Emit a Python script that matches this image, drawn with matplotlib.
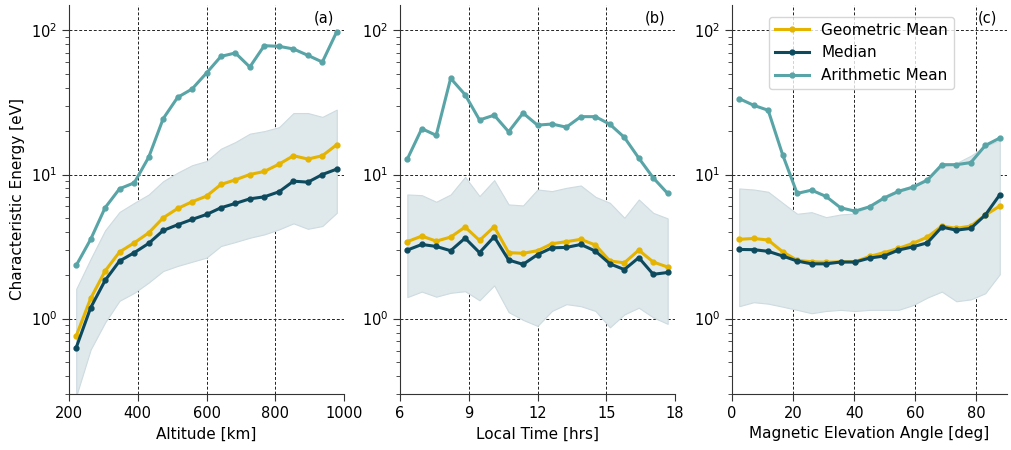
import numpy as np
import matplotlib
matplotlib.use('Agg')
import matplotlib.pyplot as plt

# bin centres
alt = [221, 263, 305, 347, 390, 432, 474, 516, 558, 600, 642, 684, 726, 768, 811, 853, 895, 937, 979]
lt = [6.32, 6.95, 7.58, 8.21, 8.84, 9.47, 10.11, 10.74, 11.37, 12.0, 12.63, 13.26, 13.89, 14.53,
      15.16, 15.79, 16.42, 17.05, 17.68]
mea = [2.37, 7.11, 11.84, 16.58, 21.32, 26.05, 30.79, 35.53, 40.26, 45.0, 49.74, 54.47, 59.21,
       63.95, 68.68, 73.42, 78.16, 82.89, 87.63]

# altitude
alt_geo = [0.76, 1.38, 2.14, 2.90, 3.36, 3.94, 5.01, 5.81, 6.47, 7.08, 8.53, 9.19, 10.0, 10.5,
           11.8, 13.5, 12.8, 13.5, 16.1]
alt_med = [0.63, 1.19, 1.84, 2.51, 2.87, 3.33, 4.09, 4.48, 4.88, 5.28, 5.88, 6.30, 6.78, 7.00,
           7.59, 8.99, 8.85, 10.0, 10.9]
alt_ari = [2.34, 3.55, 5.88, 7.96, 8.76, 13.2, 24.4, 34.3, 39.2, 50.6, 66.0, 69.7, 55.7, 78.3,
           77.5, 74.3, 67.1, 60.3, 97.9]
alt_lo = [0.29, 0.61, 0.94, 1.33, 1.51, 1.78, 2.14, 2.32, 2.48, 2.65, 3.19, 3.40, 3.64, 3.84,
          4.16, 4.58, 4.20, 4.39, 5.42]
alt_hi = [1.61, 2.60, 4.10, 5.50, 6.36, 7.27, 8.99, 10.3, 11.6, 12.4, 15.1, 16.8, 19.2, 20.0,
          21.3, 26.7, 26.7, 25.1, 28.2]

# local time
lt_geo = [3.42, 3.74, 3.45, 3.68, 4.32, 3.49, 4.34, 2.87, 2.84, 2.96, 3.31, 3.42, 3.55, 3.24,
          2.51, 2.44, 2.99, 2.47, 2.28]
lt_med = [2.99, 3.27, 3.17, 2.96, 3.62, 2.87, 3.70, 2.55, 2.38, 2.78, 3.10, 3.12, 3.27, 2.94,
          2.40, 2.19, 2.65, 2.03, 2.09]
lt_ari = [12.8, 20.8, 18.7, 46.5, 35.8, 23.9, 25.8, 19.8, 26.7, 22.0, 22.4, 21.3, 25.2, 25.2,
          22.3, 18.1, 13.0, 9.48, 7.39]
lt_lo = [1.41, 1.54, 1.42, 1.51, 1.55, 1.34, 1.70, 1.11, 0.98, 0.89, 1.13, 1.26, 1.22, 1.13,
         0.87, 1.07, 1.19, 1.02, 0.92]
lt_hi = [7.27, 7.19, 6.47, 7.27, 9.63, 7.08, 9.14, 6.20, 6.10, 7.87, 7.67, 8.08, 8.39, 7.00,
         6.36, 5.01, 6.71, 5.42, 4.96]

# magnetic elevation angle
mea_geo = [3.55, 3.60, 3.51, 2.91, 2.54, 2.48, 2.46, 2.48, 2.48, 2.70, 2.87, 3.07, 3.33, 3.68,
           4.39, 4.23, 4.39, 5.23, 6.04]
mea_med = [3.02, 3.01, 2.93, 2.72, 2.51, 2.40, 2.40, 2.47, 2.47, 2.63, 2.72, 2.99, 3.15, 3.36,
           4.32, 4.11, 4.23, 5.23, 7.23]
mea_ari = [33.6, 30.2, 27.9, 13.7, 7.39, 7.79, 7.04, 5.88, 5.57, 5.97, 6.86, 7.63, 8.17, 9.14,
           11.7, 11.7, 12.1, 15.9, 17.9]
mea_lo = [1.22, 1.30, 1.27, 1.21, 1.15, 1.09, 1.13, 1.15, 1.13, 1.15, 1.15, 1.15, 1.24, 1.40,
          1.54, 1.32, 1.36, 1.50, 2.03]
mea_hi = [8.00, 7.87, 7.59, 6.36, 5.34, 5.48, 5.06, 5.28, 5.37, 6.04, 7.08, 7.87, 8.39, 9.48,
          11.3, 12.0, 13.5, 15.7, 17.3]

c_geo = '#e5b400'
c_med = '#0d4a5e'
c_ari = '#58a4a6'

panels = [
    (alt, alt_geo, alt_med, alt_ari, alt_lo, alt_hi, 'Altitude [km]', (200, 1000), [200, 400, 600, 800, 1000], '(a)'),
    (lt, lt_geo, lt_med, lt_ari, lt_lo, lt_hi, 'Local Time [hrs]', (6, 18), [6, 9, 12, 15, 18], '(b)'),
    (mea, mea_geo, mea_med, mea_ari, mea_lo, mea_hi, 'Magnetic Elevation Angle [deg]', (0, 90), [0, 20, 40, 60, 80], '(c)'),
]
lefts = [69, 400, 732]

fig = plt.figure(figsize=(10.11, 4.5), dpi=100)
for i, (x, geo, med, ari, lo, hi, xlab, xl, xt, tag) in enumerate(panels):
    ax = fig.add_axes([lefts[i] / 1011, 1 - 394 / 450, 275 / 1011, 389 / 450])
    ax.fill_between(x, lo, hi, facecolor='#dfe8eb', edgecolor='#cddbe0', lw=0.8, zorder=1)
    ax.plot(x, geo, '-o', color=c_geo, lw=2.2, ms=3.5, label='Geometric Mean', zorder=3)
    ax.plot(x, med, '-o', color=c_med, lw=2.2, ms=3.5, label='Median', zorder=3)
    ax.plot(x, ari, '-o', color=c_ari, lw=2.2, ms=3.5, label='Arithmetic Mean', zorder=3)
    ax.set_yscale('log')
    ax.set_ylim(0.3, 150)
    ax.set_xlim(*xl)
    ax.set_xticks(xt)
    ax.grid(True, which='major', color='#222222', ls=(0, (3, 2)), lw=0.7, zorder=0)
    ax.set_axisbelow(True)
    if xt[-1] == xl[1]:
        # grid line on the right edge comes out faint in the original
        ax.get_xgridlines()[-1].set_alpha(0.15)
    for s in ['top', 'right']:
        ax.spines[s].set_visible(False)
    for s in ['left', 'bottom']:
        ax.spines[s].set_color('#333333')
    ax.tick_params(which='major', direction='out', length=5, labelsize=10.5, color='#333333')
    ax.tick_params(which='minor', direction='out', length=3, color='#333333')
    ax.set_xlabel(xlab, fontsize=11)
    ax.text(0.965, 0.985, tag, transform=ax.transAxes, ha='right', va='top', fontsize=10.5)
    if i == 0:
        ax.set_ylabel('Characteristic Energy [eV]', fontsize=11)
    if i == 2:
        ax.legend(loc='upper right', bbox_to_anchor=(0.835, 0.99), fontsize=11,
                  framealpha=0.8, borderpad=0.4, handlelength=2.2)

fig.savefig('out.png', dpi=100)
